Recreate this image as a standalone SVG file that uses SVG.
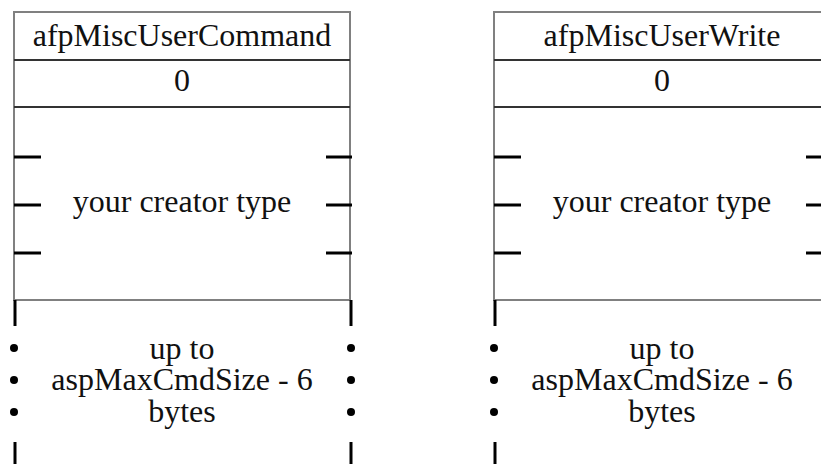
<svg xmlns="http://www.w3.org/2000/svg" width="821" height="464" viewBox="0 0 821 464">
<defs>
<style>
.frame{fill:#fff;stroke:#808080;stroke-width:2}
.div{stroke:#333;stroke-width:2}
.tick{stroke:#000;stroke-width:3}
.bar{stroke:#000;stroke-width:3}
.dot{fill:#000}
text{font-family:"Liberation Serif","Times New Roman",serif;font-size:32px;fill:#111;text-anchor:middle}
</style>
<g id="proto">
<rect class="frame" x="14" y="12" width="336" height="288"/>
<line class="div" x1="14" y1="60" x2="350" y2="60"/>
<line class="div" x1="14" y1="107" x2="350" y2="107"/>
<line class="tick" x1="14" y1="157" x2="41" y2="157"/>
<line class="tick" x1="14" y1="205" x2="41" y2="205"/>
<line class="tick" x1="14" y1="253" x2="41" y2="253"/>
<line class="tick" x1="326" y1="157" x2="352" y2="157"/>
<line class="tick" x1="326" y1="205" x2="352" y2="205"/>
<line class="tick" x1="326" y1="253" x2="352" y2="253"/>
<line class="bar" x1="15" y1="300" x2="15" y2="326"/>
<line class="bar" x1="15" y1="442" x2="15" y2="464"/>
<line class="bar" x1="351" y1="300" x2="351" y2="326"/>
<line class="bar" x1="351" y1="442" x2="351" y2="464"/>
<circle class="dot" cx="14" cy="348" r="4"/>
<circle class="dot" cx="14" cy="380" r="4"/>
<circle class="dot" cx="14" cy="412" r="4"/>
<circle class="dot" cx="351" cy="348" r="4"/>
<circle class="dot" cx="351" cy="380" r="4"/>
<circle class="dot" cx="351" cy="412" r="4"/>
</g>
</defs>
<g id="cmd">
<use href="#proto"/>
<text x="182" y="46">afpMiscUserCommand</text>
<text x="182" y="91">0</text>
<text x="182" y="212">your creator type</text>
<text x="182" y="359">up to</text>
<text x="182" y="390">aspMaxCmdSize - 6</text>
<text x="182" y="422">bytes</text>
</g>
<g id="write">
<use href="#proto" x="480"/>
<text x="662" y="46">afpMiscUserWrite</text>
<text x="662" y="91">0</text>
<text x="662" y="212">your creator type</text>
<text x="662" y="359">up to</text>
<text x="662" y="390">aspMaxCmdSize - 6</text>
<text x="662" y="422">bytes</text>
</g>
<g id="connectors"></g>
</svg>
